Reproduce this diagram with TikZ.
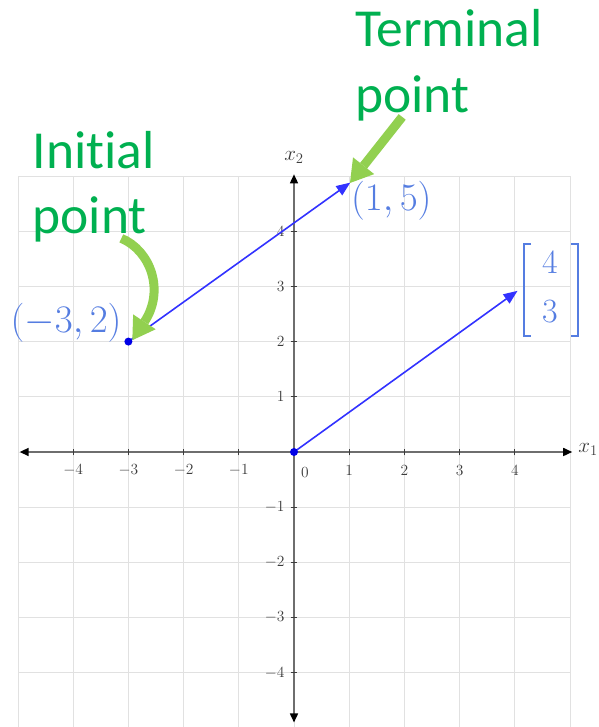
\RequirePackage{fix-cm}
\documentclass[tikz,border=0pt]{standalone}
\usepackage{fontspec}
\newfontfamily\calib[Ligatures=NoCommon]{Carlito}
\usetikzlibrary{arrows.meta}
\definecolor{gtext}{RGB}{0,176,80}
\definecolor{garrow}{RGB}{146,208,80}
\definecolor{vecblue}{RGB}{50,50,255}
\definecolor{dotblue}{RGB}{0,0,230}
\definecolor{lblblue}{RGB}{85,125,225}
\definecolor{gridgray}{RGB}{225,225,225}
\definecolor{axisgray}{RGB}{110,110,110}
\definecolor{tickgray}{RGB}{60,60,60}
\begin{document}
\begin{tikzpicture}[x=55.2pt,y=55.2pt,
 gridline/.style={gridgray, line width=0.9pt},
 axis/.style={axisgray, line width=1.6pt, {Triangle[length=9pt,width=8pt,color=black]}-{Triangle[length=9pt,width=8pt,color=black]}},
 tickmark/.style={tickgray, line width=0.9pt},
 ticklabel/.style={text=tickgray, font=\fontsize{15.5}{18}\selectfont, inner sep=1pt},
 axislabel/.style={text=tickgray, font=\fontsize{21}{24}\selectfont, inner sep=0pt},
 vec/.style={vecblue, line width=1.6pt, -{Triangle[length=14pt,width=11pt]}},
 dotpt/.style={circle, fill=dotblue, inner sep=0pt, minimum size=8pt},
 ptlabel/.style={text=lblblue, font=\fontsize{39}{44}\selectfont, inner sep=0pt},
 matlabel/.style={text=lblblue, font=\fontsize{34}{40}\selectfont, inner sep=0pt},
 callout/.style={text=gtext, font=\calib\fontsize{53.5}{65}\selectfont, align=left, inner sep=0pt},
 pointer/.style={garrow, line width=9pt, -{Triangle[length=22pt,width=27pt,line width=0pt]}},
]
\useasboundingbox (-5.326,-4.982) rectangle (5.525,8.188);
% grid
\foreach \i in {-5,...,5} \draw[gridline] (\i,-4.99) -- (\i,5);
\foreach \j in {-4,...,5} \draw[gridline] (-5,\j) -- (5,\j);
% axes
\coordinate (xl) at (-4.97,0); \coordinate (xr) at (5.04,0);
\coordinate (yb) at (0,-4.9); \coordinate (yt) at (0,5.03);
\draw[axis] (xl) -- (xr);
\draw[axis] (yb) -- (yt);
% ticks
\foreach \i in {-4,-3,-2,-1,1,2,3,4} {
  \draw[tickmark] (\i,-0.06) -- (\i,0.06);
  \draw[tickmark] (-0.06,\i) -- (0.06,\i);
  \node[ticklabel] (xlab\i) at (\i,-0.33) {$\i$};
  \node[ticklabel, anchor=east] (ylab\i) at (-0.15,\i) {$\i$};
}
\node[ticklabel] (zero) at (0.2,-0.37) {$0$};
\node[axislabel] (x2lab) at (0.0,5.34) {$x_2$};
\node[axislabel, anchor=west] (x1lab) at (5.15,0.04) {$x_1$};
% vectors
\coordinate (A) at (-3,2); \coordinate (B) at (1.02,4.88);
\coordinate (O) at (0,0); \coordinate (C) at (4.05,2.92);
\draw[vec] (A) -- (B);
\draw[vec] (O) -- (C);
\node[dotpt] (Adot) at (A) {};
\node[dotpt] (Odot) at (O) {};
% labels
\node[ptlabel, anchor=east] (Alab) at (-3.12,2.34) {$(-3,2)$};
\node[ptlabel, anchor=west] (Blab) at (1.03,4.56) {$(1,5)$};
\node[matlabel] (m4) at (4.638,3.424) {$4$};
\node[matlabel] (m3) at (4.638,2.536) {$3$};
\draw[lblblue, line width=1.3pt] (4.294,3.768) -- (4.167,3.768) -- (4.167,2.101) -- (4.294,2.101);
\draw[lblblue, line width=1.3pt] (5.018,3.768) -- (5.145,3.768) -- (5.145,2.101) -- (5.018,2.101);
% callouts
\node[callout, anchor=base west] (term) at (1.105,6.159) {Terminal\\point};
\node[callout, anchor=base west] (init) at (-4.74,3.967) {Initial\\point};
\coordinate (ts) at (1.96,6.07); \coordinate (te) at (1.014,4.873);
\draw[pointer] (ts) -- (te);
\coordinate (is) at (-3.128,3.870); \coordinate (ie) at (-2.929,2.025);
\draw[pointer] (is) .. controls (-2.604,3.653) and (-2.333,2.929) .. (ie);
\end{tikzpicture}
\end{document}
